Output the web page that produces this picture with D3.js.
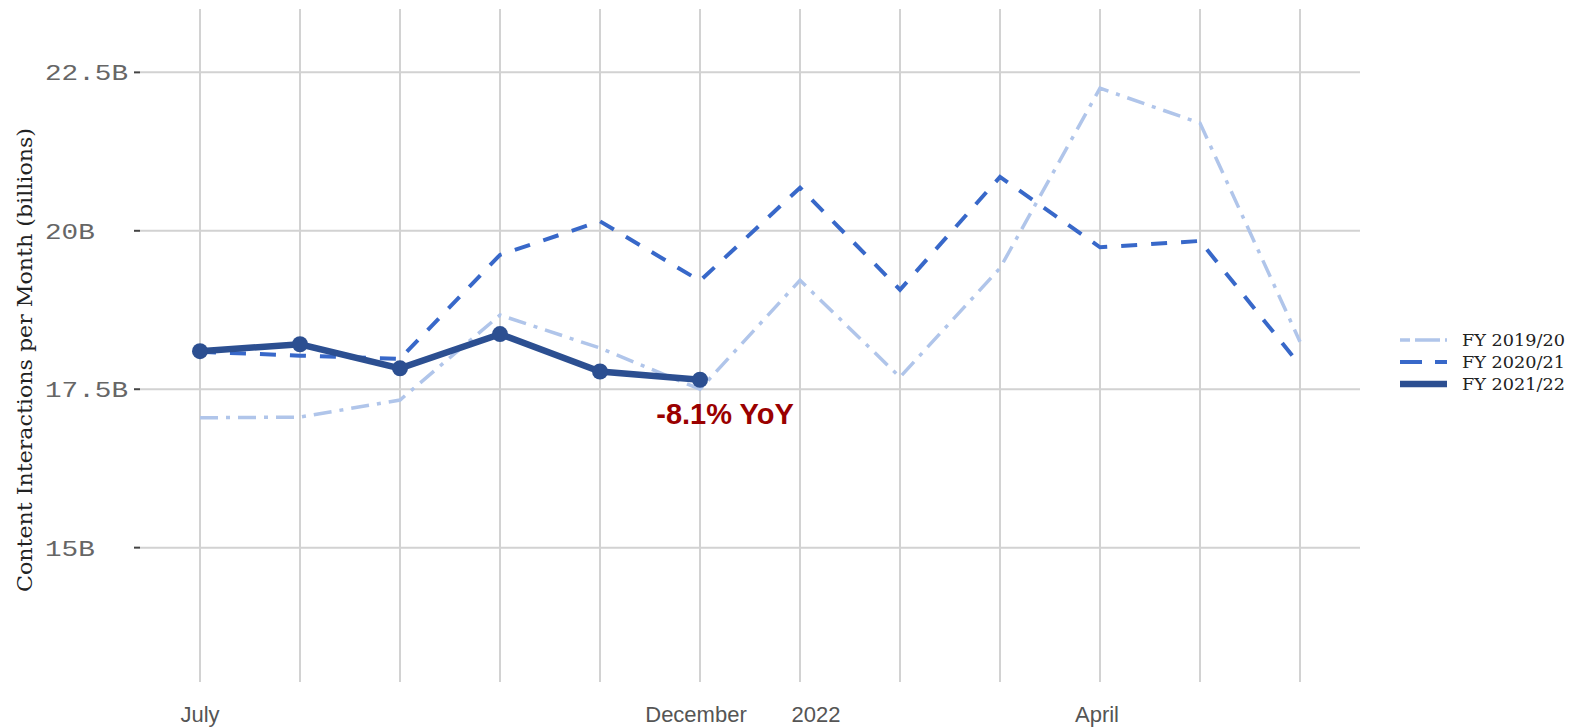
<!DOCTYPE html>
<html>
<head>
<meta charset="utf-8">
<script src="https://cdn.jsdelivr.net/npm/d3@7"></script>
<style>
  html, body { margin: 0; padding: 0; background: #fff; }
  svg { display: block; }
</style>
</head>
<body>
<script>
// ---- Data ----
const months = ["Jul","Aug","Sep","Oct","Nov","Dec","Jan","Feb","Mar","Apr","May","Jun"];
const fy1920 = [17.05, 17.06, 17.33, 18.67, 18.15, 17.50, 19.22, 17.69, 19.41, 22.25, 21.70, 18.25];
const fy2021 = [18.09, 18.03, 17.98, 19.62, 20.15, 19.21, 20.68, 19.07, 20.85, 19.74, 19.84, 17.88];
const fy2122 = [18.10, 18.21, 17.83, 18.37, 17.78, 17.65];
const seriesNames = ["FY 2019/20", "FY 2020/21", "FY 2021/22"];
const yTicks = [15, 17.5, 20, 22.5];
const yTickLabels = ["15B", "17.5B", "20B", "22.5B"];
const xTickMonths = ["Jul", "Dec", "Jan", "Apr"];
const xTickLabels = ["July", "December", "2022", "April"];
const annotationText = "-8.1% YoY";
const yTitle = "Content Interactions per Month (billions)";

// ---- Layout ----
const W = 1570, H = 728;
const svg = d3.select("body").append("svg").attr("width", W).attr("height", H);

const x = d3.scalePoint().domain(months).range([200, 1300]);
const y = d3.scaleLinear().domain([12.88, 23.5]).range([682, 9]);

const gridColor = "#d2d2d2";
const plotLeft = 140, plotRight = 1360;

// grid
const grid = svg.append("g");
grid.selectAll("line.h").data(yTicks).join("line")
  .attr("x1", plotLeft).attr("x2", plotRight)
  .attr("y1", d => y(d)).attr("y2", d => y(d))
  .attr("stroke", gridColor).attr("stroke-width", 2);
grid.selectAll("line.v").data(months).join("line")
  .attr("x1", d => x(d)).attr("x2", d => x(d))
  .attr("y1", 9).attr("y2", 682)
  .attr("stroke", gridColor).attr("stroke-width", 2);

// y axis ticks & labels
const yAxis = svg.append("g");
yAxis.selectAll("line").data(yTicks).join("line")
  .attr("x1", 134).attr("x2", 140)
  .attr("y1", d => y(d)).attr("y2", d => y(d))
  .attr("stroke", "#444").attr("stroke-width", 2);
yAxis.selectAll("text").data(yTicks).join("text")
  .attr("x", 45).attr("y", d => y(d))
  .attr("dy", "0.36em")
  .attr("font-family", "'Liberation Mono', 'DejaVu Sans Mono', monospace")
  .attr("font-size", 22)
  .attr("fill", "#666")
  .attr("textLength", (d, i) => yTickLabels[i].length * 16.6)
  .attr("lengthAdjust", "spacingAndGlyphs")
  .text((d, i) => yTickLabels[i]);

// y title
svg.append("text")
  .attr("transform", "translate(32,360) rotate(-90)")
  .attr("text-anchor", "middle")
  .attr("font-family", "'DejaVu Serif', 'Liberation Serif', serif")
  .attr("font-size", 20)
  .attr("fill", "#222")
  .attr("textLength", 464)
  .attr("lengthAdjust", "spacingAndGlyphs")
  .text(yTitle);

// x labels
const xLabelOffset = {"Jan": 16, "Dec": -4, "Apr": -3};
svg.append("g").selectAll("text").data(xTickMonths).join("text")
  .attr("x", d => x(d) + (xLabelOffset[d] || 0))
  .attr("y", 722)
  .attr("text-anchor", "middle")
  .attr("font-family", "'Liberation Sans', Arial, sans-serif")
  .attr("font-size", 22)
  .attr("fill", "#555")
  .text((d, i) => xTickLabels[i]);

// lines
const styles = [
  {color: "#b0c5ea", width: 3.5, dash: "18,8,4,8"},
  {color: "#3868c9", width: 4, dash: "16,14"},
  {color: "#2c4f91", width: 6.5, dash: null}
];
const allSeries = [fy1920, fy2021, fy2122];
const line = d3.line().x((d, i) => x(months[i])).y(d => y(d));

allSeries.forEach((s, k) => {
  svg.append("path")
    .datum(s)
    .attr("d", line)
    .attr("fill", "none")
    .attr("stroke", styles[k].color)
    .attr("stroke-width", styles[k].width)
    .attr("stroke-linejoin", "miter")
    .attr("stroke-dasharray", styles[k].dash);
});

// points for FY 2021/22
svg.append("g").selectAll("circle").data(fy2122).join("circle")
  .attr("cx", (d, i) => x(months[i]))
  .attr("cy", d => y(d))
  .attr("r", 8)
  .attr("fill", styles[2].color);

// annotation
const lastIdx = fy2122.length - 1;
svg.append("text")
  .attr("x", x(months[lastIdx]) + 25)
  .attr("y", y(fy2122[lastIdx]) + 44)
  .attr("text-anchor", "middle")
  .attr("font-family", "'Liberation Sans', Arial, sans-serif")
  .attr("font-weight", "bold")
  .attr("font-size", 29)
  .attr("fill", "#9a0000")
  .text(annotationText);

// legend
const legend = svg.append("g");
seriesNames.forEach((name, k) => {
  const cy = 340 + k * 22;
  legend.append("line")
    .attr("x1", 1400).attr("x2", 1447)
    .attr("y1", cy).attr("y2", cy)
    .attr("stroke", styles[k].color)
    .attr("stroke-width", styles[k].width)
    .attr("stroke-dasharray", k === 1 ? "22,13" : (k === 0 ? "10,5,25,5" : null));
  legend.append("text")
    .attr("x", 1462).attr("y", cy)
    .attr("dy", "0.35em")
    .attr("font-family", "'DejaVu Serif', 'Liberation Serif', serif")
    .attr("font-size", 17)
    .attr("fill", "#222")
    .attr("textLength", 103)
    .attr("lengthAdjust", "spacingAndGlyphs")
    .text(name);
});
</script>
</body>
</html>
